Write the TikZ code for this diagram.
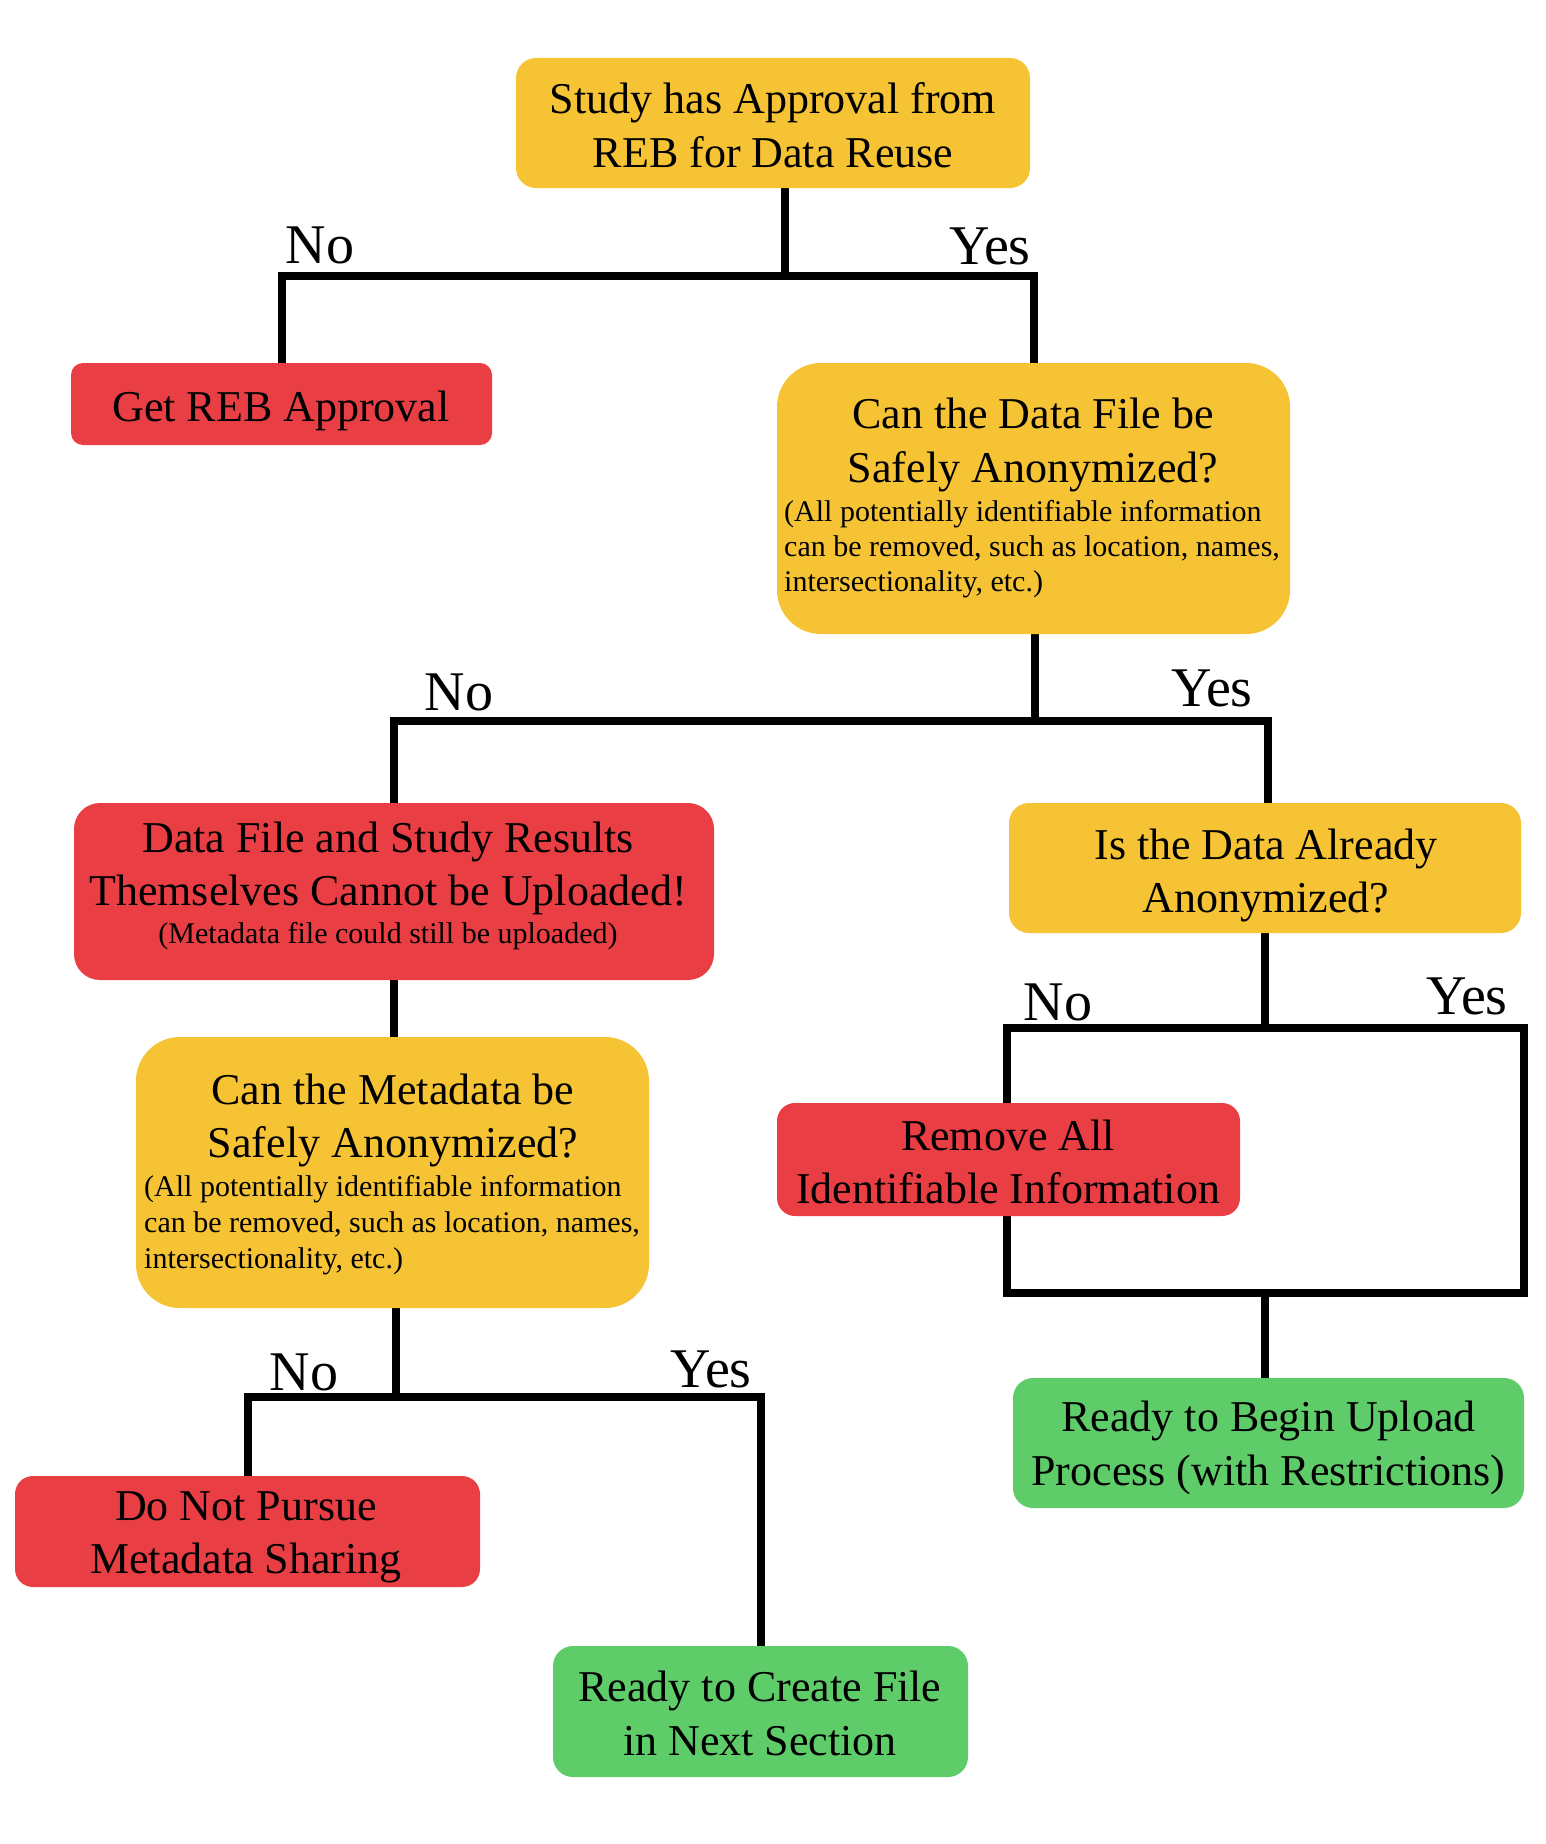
\documentclass[tikz,border=0pt]{standalone}
\usepackage{fontspec}
\setmainfont{Liberation Serif}
\pgfdeclarelayer{back}
\pgfdeclarelayer{bg}
\pgfsetlayers{back,bg,main}
\definecolor{ybox}{RGB}{245,195,52}
\definecolor{rbox}{RGB}{233,63,68}
\definecolor{gbox}{RGB}{95,204,106}
\begin{document}
\begin{tikzpicture}[x=1pt,y=-1pt,
  box/.style={draw=none, inner sep=0pt, outer sep=0pt},
  bigtxt/.style={font=\fontsize{44}{53}\selectfont, anchor=base, inner sep=0pt},
  smalltxt/.style={font=\fontsize{30}{36}\selectfont, anchor=base west, inner sep=0pt},
  smallc/.style={font=\fontsize{30}{36}\selectfont, anchor=base, inner sep=0pt},
  lbl/.style={font=\fontsize{56}{60}\selectfont, anchor=base, inner sep=0pt},
  conn/.style={line width=8pt, line join=miter, line cap=rect}]
\begin{pgfonlayer}{back}
\useasboundingbox[fill=white] (0,0) rectangle (1546,1844);
\end{pgfonlayer}

% boxes
\node[box, fill=ybox, rounded corners=20pt, minimum width=514pt, minimum height=130pt] (b1) at (773,123) {};
\node[box, fill=rbox, rounded corners=12pt, minimum width=421pt, minimum height=82pt] (noreb) at (281.5,404) {};
\node[box, fill=ybox, rounded corners=44pt, minimum width=513pt, minimum height=271pt] (b2) at (1033.5,498.5) {};
\node[box, fill=rbox, rounded corners=26pt, minimum width=640pt, minimum height=177pt] (b3) at (394,891.5) {};
\node[box, fill=ybox, rounded corners=20pt, minimum width=512pt, minimum height=130pt] (b4) at (1265,868) {};
\node[box, fill=ybox, rounded corners=44pt, minimum width=513pt, minimum height=271pt] (b5) at (392.5,1172.5) {};
\node[box, fill=rbox, rounded corners=18pt, minimum width=463pt, minimum height=113pt] (b6) at (1008.5,1159.5) {};
\node[box, fill=rbox, rounded corners=18pt, minimum width=465pt, minimum height=111pt] (b7) at (247.5,1531.5) {};
\node[box, fill=gbox, rounded corners=20pt, minimum width=415pt, minimum height=131pt] (b8) at (760.5,1711.5) {};
\node[box, fill=gbox, rounded corners=20pt, minimum width=511pt, minimum height=130pt] (b9) at (1268.5,1443) {};

% texts
\node[bigtxt] (t1a) at (773,113) {Study has Approval from};
\node[bigtxt] (t1b) at (773,167) {REB for Data Reuse};
\node[bigtxt] (t0a) at (281,421) {Get REB Approval};
\node[bigtxt] (t2a) at (1033,428) {Can the Data File be};
\node[bigtxt] (t2b) at (1033,482) {Safely Anonymized?};
\node[smalltxt] (t2c) at (784,521) {(All potentially identifiable information};
\node[smalltxt] (t2d) at (784,556) {can be removed, such as location, names,};
\node[smalltxt] (t2e) at (784,591) {intersectionality, etc.)};
\node[bigtxt] (t3a) at (388,852) {Data File and Study Results};
\node[bigtxt] (t3b) at (388,905) {Themselves Cannot be Uploaded!};
\node[smallc] (t3c) at (388,943) {(Metadata file could still be uploaded)};
\node[bigtxt] (t4a) at (1266,859) {Is the Data Already};
\node[bigtxt] (t4b) at (1266,912) {Anonymized?};
\node[bigtxt] (t5a) at (393,1104) {Can the Metadata be};
\node[bigtxt] (t5b) at (393,1157) {Safely Anonymized?};
\node[smalltxt] (t5c) at (144,1196) {(All potentially identifiable information};
\node[smalltxt] (t5d) at (144,1232) {can be removed, such as location, names,};
\node[smalltxt] (t5e) at (144,1268) {intersectionality, etc.)};
\node[bigtxt] (t6a) at (1008,1150) {Remove All};
\node[bigtxt] (t6b) at (1008,1203) {Identifiable Information};
\node[bigtxt] (t7a) at (246,1520) {Do Not Pursue};
\node[bigtxt] (t7b) at (246,1573) {Metadata Sharing};
\node[bigtxt] (t8a) at (760,1701) {Ready to Create File};
\node[bigtxt] (t8b) at (760,1755) {in Next Section};
\node[bigtxt] (t9a) at (1268.5,1431) {Ready to Begin Upload};
\node[bigtxt] (t9b) at (1268.5,1485) {Process (with Restrictions)};

% labels
\node[lbl] (n1) at (320,263) {No};
\node[lbl] (y1) at (990,264) {Yes};
\node[lbl] (n2) at (459,710) {No};
\node[lbl] (y2) at (1212,706) {Yes};
\node[lbl] (n3) at (1058,1020) {No};
\node[lbl] (y3) at (1467,1014) {Yes};
\node[lbl] (n4) at (304,1390) {No};
\node[lbl] (y4) at (711,1387) {Yes};

% junctions
\coordinate (j1) at (785,276);
\coordinate (j2) at (1035,721);
\coordinate (j2r) at (1268,721);
\coordinate (j3) at (1265,1028);
\coordinate (lpA) at (1007,1028);
\coordinate (lpB) at (1524,1293);
\coordinate (j3b) at (1265,1293);
\coordinate (j4) at (396,1397);

\begin{pgfonlayer}{bg}
\draw[conn] (j1 |- b1.south) -- (j1);
\draw[conn] (noreb.north) |- (j1) -| (b2.north);
\draw[conn] (j2 |- b2.south) -- (j2);
\draw[conn] (b3.north) |- (j2) -- (j2r) -- (j2r |- b4.north);
\draw[conn] (b3.south) -- (b3.south |- b5.north);
\draw[conn] (j3 |- b4.south) -- (j3);
\draw[conn] (lpA) rectangle (lpB);
\draw[conn] (j3b) -- (j3b |- b9.north);
\draw[conn] (j4 |- b5.south) -- (j4);
\draw[conn] (b7.north) |- (j4) -| (b8.north);
\end{pgfonlayer}
\end{tikzpicture}
\end{document}
